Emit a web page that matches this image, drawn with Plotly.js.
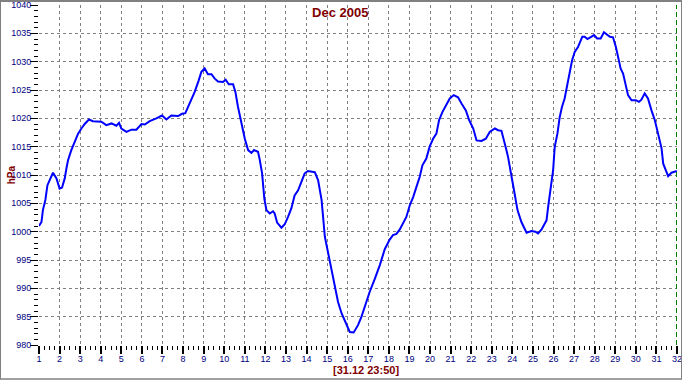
<!DOCTYPE html>
<html>
<head>
<meta charset="utf-8">
<script src="https://cdn.plot.ly/plotly-3.0.1.min.js"></script>
<style>
html,body{margin:0;padding:0;background:#fff;}
#wrap{position:relative;width:682px;height:380px;}
#chart{width:682px;height:380px;}
#frame{position:absolute;left:0;top:0;width:682px;height:380px;box-sizing:border-box;border:1px solid #808080;border-top:2px solid #808080;border-bottom:2px solid #a0a0a0;pointer-events:none;}
</style>
</head>
<body>
<div id="wrap"><div id="chart"></div><div id="frame"></div></div>
<script>
// Day of month (fractional) and pressure in hPa
const days = [1.00,1.12,1.19,1.31,1.41,1.52,1.68,1.85,2.00,2.12,2.25,2.33,2.41,2.57,2.73,2.90,3.06,3.22,3.43,3.62,
  4.03,4.27,4.52,4.76,4.89,5.00,5.25,5.49,5.73,5.98,6.14,6.38,6.70,6.98,7.19,7.43,7.76,7.95,8.11,8.32,
  8.57,8.76,8.89,9.05,9.21,9.38,9.54,9.70,9.94,10.07,10.22,10.43,10.54,10.67,10.83,11.00,11.16,11.32,11.45,11.64,
  11.72,11.84,11.95,12.05,12.21,12.37,12.45,12.57,12.78,12.94,13.10,13.26,13.42,13.59,13.75,13.91,14.07,14.40,14.56,14.73,
  14.89,15.05,15.21,15.37,15.53,15.70,15.90,16.10,16.29,16.50,16.67,16.88,17.07,17.32,17.56,17.80,18.04,18.20,18.37,18.53,
  18.69,18.85,19.02,19.18,19.34,19.50,19.63,19.82,19.98,20.15,20.31,20.44,20.60,20.80,20.96,21.15,21.36,21.53,21.74,21.90,
  22.10,22.26,22.50,22.71,22.90,23.15,23.31,23.47,23.58,23.71,23.79,23.92,24.08,24.25,24.44,24.69,24.93,25.12,25.25,25.42,
  25.66,25.74,25.87,25.98,26.06,26.19,26.30,26.41,26.54,26.63,26.76,26.90,27.03,27.19,27.40,27.51,27.65,27.81,27.97,28.12,
  28.29,28.45,28.60,28.74,28.89,29.03,29.14,29.26,29.38,29.50,29.62,29.79,30.00,30.15,30.27,30.43,30.59,30.76,30.92,31.08,
  31.25,31.33,31.46,31.57,31.73,31.94,31.99];
const pressure = [1001.0,1001.7,1003.8,1005.6,1008.2,1009.1,1010.4,1009.4,1007.6,1007.8,1009.4,1011.1,1012.6,1014.4,1015.8,1017.3,1018.2,1019.0,1019.8,1019.5,
  1019.4,1018.8,1019.1,1018.7,1019.2,1018.2,1017.6,1018.0,1018.0,1019.0,1018.9,1019.5,1020.0,1020.5,1019.8,1020.5,1020.4,1020.8,1020.9,1022.6,
  1024.7,1026.7,1028.2,1028.8,1027.8,1027.8,1027.0,1026.5,1026.4,1026.8,1026.0,1026.0,1024.7,1022.0,1019.1,1016.4,1014.4,1013.9,1014.4,1014.1,
  1012.8,1010.3,1005.8,1003.8,1003.2,1003.6,1003.2,1001.6,1000.7,1001.3,1002.6,1004.1,1006.4,1007.3,1008.8,1010.3,1010.7,1010.5,1009.1,1005.6,
  999.1,996.2,993.2,990.6,987.6,985.6,983.8,982.3,982.2,983.5,985.0,987.3,989.4,991.7,994.1,996.9,998.6,999.4,999.6,1000.4,
  1001.4,1002.6,1004.7,1006.1,1007.9,1009.7,1011.7,1012.9,1015.0,1016.4,1017.3,1019.7,1021.1,1022.3,1023.5,1024.1,1023.7,1022.6,1021.4,1019.7,
  1018.2,1016.1,1016.0,1016.4,1017.6,1018.2,1017.9,1017.8,1016.4,1014.4,1013.2,1010.3,1007.3,1003.8,1001.7,999.8,1000.1,1000.0,999.7,1000.4,
  1002.0,1004.4,1007.9,1010.8,1015.0,1017.3,1020.2,1022.0,1023.5,1025.3,1027.3,1030.2,1031.7,1032.6,1034.4,1034.4,1034.0,1034.3,1034.7,1034.1,
  1034.1,1035.2,1034.8,1034.4,1034.3,1032.6,1030.8,1028.8,1027.9,1026.1,1024.1,1023.2,1023.2,1022.9,1023.3,1024.4,1023.5,1021.4,1019.7,1017.3,
  1014.7,1012.0,1010.8,1009.8,1010.4,1010.7,1010.7];
const xTickVals = [1,2,3,4,5,6,7,8,9,10,11,12,13,14,15,16,17,18,19,20,21,22,23,24,25,26,27,28,29,30,31,32];
const yTickVals = [980,985,990,995,1000,1005,1010,1015,1020,1025,1030,1035,1040];
const titleText = "Dec 2005";
const yTitle = "hPa";
const xTitle = "[31.12 23:50]";
const xRange = [1, 32];
const yRange = [980, 1040];
const endMarker = 32;

const FONT = "'Liberation Sans', Arial, sans-serif";
const TICKC = "#000080";
const RED = "#800000";

const trace = {
  x: days, y: pressure, type: "scatter", mode: "lines",
  line: {color: "#0000ff", width: 2}, hoverinfo: "skip"
};

const gridStyle = {showgrid: true, gridcolor: "#808080", gridwidth: 1, griddash: "3px,3px"};

const layout = {
  width: 682, height: 380,
  margin: {l: 39, r: 5, t: 5, b: 35, pad: 0},
  paper_bgcolor: "#ffffff", plot_bgcolor: "#ffffff",
  showlegend: false,
  font: {family: FONT, size: 9, color: TICKC},
  title: {text: titleText, font: {family: FONT, size: 13, color: RED, weight: "bold"},
          x: 0.499, xref: "container", xanchor: "center", y: 0.967, yref: "container", yanchor: "middle"},
  xaxis: Object.assign({
    range: xRange, tickmode: "array", tickvals: xTickVals,
    ticks: "outside", ticklen: 8, tickwidth: 2, tickcolor: "#000000",
    tickfont: {family: FONT, size: 9, color: TICKC}, ticklabelstandoff: -3, ticklabeloverflow: "allow",
    zeroline: false, showline: false, fixedrange: true,
    minor: {dtick: 0.25, tick0: 1, ticks: "outside", ticklen: 4, tickwidth: 1, tickcolor: "#000000", showgrid: false}
  }, gridStyle),
  yaxis: Object.assign({
    range: yRange, tickmode: "array", tickvals: yTickVals,
    ticks: "outside", ticklen: 8, tickwidth: 1, tickcolor: "#000000",
    tickfont: {family: FONT, size: 9, color: TICKC}, ticklabelstandoff: -3, ticklabeloverflow: "allow",
    zeroline: false, showline: false, fixedrange: true,
    minor: {dtick: 1, tick0: 980, ticks: "outside", ticklen: 4, tickwidth: 1, tickcolor: "#000000", showgrid: false}
  }, gridStyle),
  shapes: [
    // cover grid lines lying on the frame edges (the reference has none there)
    {type: "line", xref: "paper", yref: "paper", x0: 0, x1: 0, y0: 0, y1: 1, layer: "below", line: {color: "#ffffff", width: 3}},
    {type: "line", xref: "paper", yref: "paper", x0: 0, x1: 1, y0: 1, y1: 1, layer: "below", line: {color: "#ffffff", width: 3}},
    {type: "line", xref: "paper", yref: "paper", x0: 0, x1: 1, y0: 0, y1: 0, layer: "below", line: {color: "#ffffff", width: 3}},
    {type: "line", xref: "x", yref: "paper", x0: endMarker, x1: endMarker, y0: 0, y1: 1,
     line: {color: "#008000", width: 2, dash: "5px,3px"}}
  ],
  annotations: [
    {text: yTitle, xref: "paper", yref: "paper", x: -0.0435, y: 0.5, xanchor: "center", yanchor: "middle",
     textangle: -90, showarrow: false, font: {family: FONT, size: 10, color: RED, weight: "bold"}},
    {text: xTitle, xref: "paper", yref: "paper", x: 0.5125, y: -0.0735, xanchor: "center", yanchor: "middle",
     showarrow: false, font: {family: FONT, size: 11, color: RED, weight: "bold"}}
  ]
};

Plotly.newPlot("chart", [trace], layout, {staticPlot: true, displayModeBar: false});
</script>
</body>
</html>
